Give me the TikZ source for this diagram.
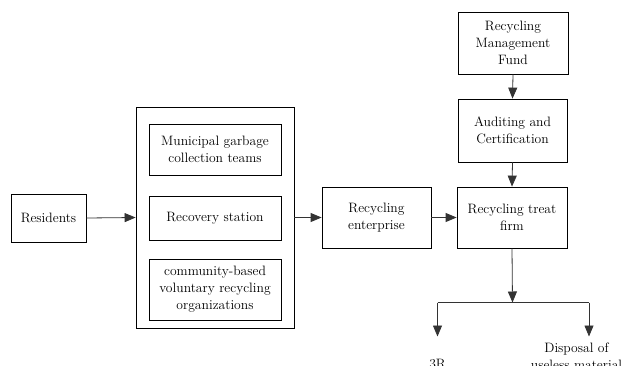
\documentclass[tikz,border=0pt]{standalone}
\usetikzlibrary{arrows.meta}
\begin{document}
\begin{tikzpicture}[x=1pt,y=-1pt,
  every node/.style={font=\fontsize{13.6}{17}\selectfont, align=center},
  box/.style={draw=black, line width=0.8pt, inner sep=0pt, rectangle},
  conn/.style={draw=black!80, line width=0.8pt},
  arr/.style={conn, -{Triangle[length=11pt,width=9pt]}}]
\useasboundingbox (0,0) rectangle (623,365);
\node[box, minimum width=75pt, minimum height=48pt] (res) at (48.5,218) {Residents};
\node[box, minimum width=158pt, minimum height=221pt] (outer) at (215,217.5) {};
\node[box, minimum width=132pt, minimum height=51pt] (mun) at (215,149.5) {Municipal garbage\\collection teams};
\node[box, minimum width=132pt, minimum height=44pt] (rec) at (215,218) {Recovery station};
\node[box, minimum width=132pt, minimum height=61pt] (com) at (215,289.5) {community-based\\voluntary recycling\\organizations};
\node[box, minimum width=109pt, minimum height=61pt] (ent) at (376.5,217.5) {Recycling\\enterprise};
\node[box, minimum width=110pt, minimum height=61pt] (treat) at (512,217.5) {Recycling treat\\firm};
\node[box, minimum width=109pt, minimum height=63pt] (aud) at (512.5,130.5) {Auditing and\\Certification};
\node[box, minimum width=110pt, minimum height=62pt] (fund) at (513,43) {Recycling\\Management\\Fund};
\coordinate (j) at (512.5,302.5);
\coordinate (jl) at (437.5,302.5);
\coordinate (jr) at (589,302.5);
\coordinate (el) at (437.5,336.5);
\coordinate (er) at (589,336.5);
\node[inner sep=0pt, anchor=base] (r3) at (437.5,368.5) {3R};
\node[inner sep=0pt, anchor=north] (disp) at (576.5,342.5) {Disposal of\\useless material};
\draw[arr] (res.east) -- (outer.west);
\draw[arr] (outer.east) -- (ent.west);
\draw[arr] (ent.east) -- (treat.west);
\draw[arr] (fund.south) -- (aud.north);
\draw[arr] (aud.south) -- (treat.north);
\draw[arr] (treat.south) -- (j);
\draw[conn] (jl) -- (jr);
\draw[arr] (jl) -- (el);
\draw[arr] (jr) -- (er);
\end{tikzpicture}
\end{document}
